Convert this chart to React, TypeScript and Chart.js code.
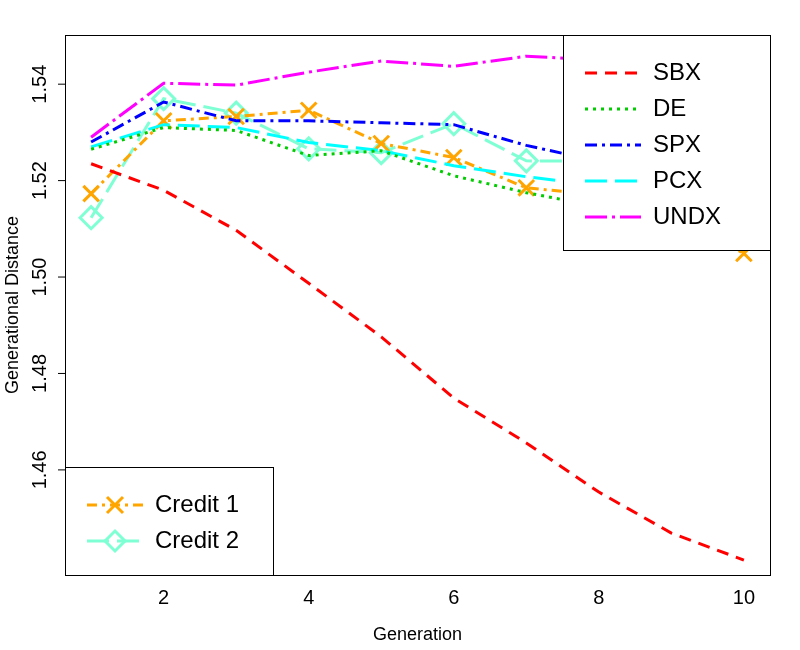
import { useEffect, useRef } from 'react'
import { Chart, registerables, type ChartConfiguration, type Plugin } from 'chart.js'

Chart.register(...registerables)

const generations = [1, 2, 3, 4, 5, 6, 7, 8, 9, 10]
const sbx = [1.5235, 1.518, 1.5097, 1.4987, 1.4876, 1.4749, 1.4656, 1.4554, 1.4469, 1.4413]
const de = [1.5265, 1.531, 1.5304, 1.5252, 1.5262, 1.521, 1.5175, 1.5146, 1.513, 1.512]
const spx = [1.528, 1.5363, 1.5324, 1.5324, 1.532, 1.5316, 1.5273, 1.524, 1.523, 1.522]
const pcx = [1.527, 1.5316, 1.531, 1.5279, 1.5262, 1.5231, 1.5208, 1.519, 1.518, 1.517]
const undx = [1.529, 1.5402, 1.5398, 1.5425, 1.5448, 1.5437, 1.5458, 1.545, 1.545, 1.546]
const credit1 = [1.5173, 1.5324, 1.5333, 1.5346, 1.5277, 1.5248, 1.5185, 1.517, 1.513, 1.5049]
const credit2 = [1.5123, 1.537, 1.534, 1.5266, 1.5258, 1.5318, 1.5241, 1.524, 1.52, 1.515]
const yTicks = [1.46, 1.48, 1.5, 1.52, 1.54]
const xTicks = [2, 4, 6, 8, 10]

const FONT = '"Liberation Sans", Arial, sans-serif'

type Item = { label: string; color: string; dash: number[]; marker?: 'cross' | 'diamond' }
const topItems: Item[] = [
  { label: 'SBX', color: '#ff0000', dash: [12, 8] },
  { label: 'DE', color: '#00cd00', dash: [3, 5] },
  { label: 'SPX', color: '#0000ff', dash: [12, 5, 3, 5] },
  { label: 'PCX', color: '#00ffff', dash: [22, 8] },
  { label: 'UNDX', color: '#ff00ff', dash: [22, 5, 3, 5] },
]
const bottomItems: Item[] = [
  { label: 'Credit 1', color: '#ffa500', dash: [10, 5, 3, 5], marker: 'cross' },
  { label: 'Credit 2', color: '#7fffd4', dash: [22, 8], marker: 'diamond' },
]

function drawBox(ctx: CanvasRenderingContext2D, x: number, y: number, w: number, h: number, items: Item[], rowH: number, y0: number) {
  ctx.save()
  ctx.fillStyle = '#fff'
  ctx.fillRect(x, y, w, h)
  ctx.strokeStyle = '#000'
  ctx.lineWidth = 1
  ctx.setLineDash([])
  ctx.strokeRect(x + 0.5, y + 0.5, w, h)
  ctx.font = `24px ${FONT}`
  ctx.textBaseline = 'middle'
  items.forEach((it, i) => {
    const cy = y + y0 + i * rowH
    ctx.strokeStyle = it.color
    ctx.lineWidth = 3
    ctx.setLineDash(it.dash)
    ctx.beginPath()
    ctx.moveTo(x + 22, cy)
    ctx.lineTo(x + 78, cy)
    ctx.stroke()
    ctx.setLineDash([])
    const mx = x + 50
    if (it.marker === 'cross') {
      ctx.beginPath()
      ctx.moveTo(mx - 8, cy - 8); ctx.lineTo(mx + 8, cy + 8)
      ctx.moveTo(mx + 8, cy - 8); ctx.lineTo(mx - 8, cy + 8)
      ctx.stroke()
    } else if (it.marker === 'diamond') {
      ctx.beginPath()
      ctx.moveTo(mx, cy - 10); ctx.lineTo(mx + 10, cy); ctx.lineTo(mx, cy + 10); ctx.lineTo(mx - 10, cy); ctx.closePath()
      ctx.stroke()
    }
    ctx.fillStyle = '#000'
    ctx.fillText(it.label, x + 90, cy)
  })
  ctx.restore()
}

const legendPlugin: Plugin<'line'> = {
  id: 'rLegend',
  afterDatasetsDraw(chart) {
    const { ctx, chartArea: a } = chart
    drawBox(ctx, a.right - 207, a.top, 207, 215, topItems, 36, 38)
    drawBox(ctx, a.left, a.bottom - 108, 208, 108, bottomItems, 36, 38)
    ctx.save()
    ctx.strokeStyle = '#000'
    ctx.lineWidth = 1
    ctx.strokeRect(a.left + 0.5, a.top + 0.5, a.right - a.left, a.bottom - a.top)
    // rotated y tick labels, centred on their ticks (R style)
    const y = chart.scales.y
    ctx.font = `20px ${FONT}`
    ctx.fillStyle = '#000'
    ctx.textAlign = 'center'
    ctx.textBaseline = 'middle'
    yTicks.forEach((v) => {
      const py = y.getPixelForValue(v)
      ctx.save()
      ctx.translate(40, py)
      ctx.rotate(-Math.PI / 2)
      ctx.fillText(v.toFixed(2), 0, 0)
      ctx.restore()
      ctx.beginPath()
      ctx.moveTo(a.left - 7, py)
      ctx.lineTo(a.left, py)
      ctx.stroke()
    })
    ctx.restore()
  },
}

export default function App() {
  const chartRef = useRef<HTMLCanvasElement>(null)
  const chartInstance = useRef<Chart | null>(null)

  useEffect(() => {
    document.body.style.margin = '0'
    if (!chartRef.current) return
    chartInstance.current?.destroy()
    const ctx = chartRef.current.getContext('2d')
    if (!ctx) return

    const series = [
      { item: topItems[0], data: sbx },
      { item: topItems[1], data: de },
      { item: topItems[2], data: spx },
      { item: topItems[3], data: pcx },
      { item: topItems[4], data: undx },
      { item: bottomItems[0], data: credit1 },
      { item: bottomItems[1], data: credit2 },
    ]

    const config: ChartConfiguration<'line'> = {
      type: 'line',
      data: {
        datasets: series.map(({ item, data }) => ({
          label: item.label,
          data: data.map((v, i) => ({ x: generations[i], y: v })),
          borderColor: item.color,
          borderDash: item.dash,
          borderWidth: 3,
          tension: 0,
          pointStyle: item.marker === 'cross' ? 'crossRot' : item.marker === 'diamond' ? 'rectRot' : false,
          pointRadius: item.marker ? 11 : 0,
          pointBorderWidth: 3,
          pointBackgroundColor: 'rgba(0,0,0,0)',
          pointBorderColor: item.color,
          fill: false,
        })),
      },
      options: {
        responsive: false,
        animation: false,
        layout: { padding: { top: 35, right: 30, left: 0, bottom: 0 } },
        plugins: { legend: { display: false }, tooltip: { enabled: false } },
        scales: {
          x: {
            type: 'linear',
            min: 0.64,
            max: 10.36,
            afterBuildTicks: (s) => { s.ticks = xTicks.map((v) => ({ value: v })) },
            afterFit: (s) => { s.height = 75 },
            grid: { display: false, drawTicks: true, tickLength: 8 },
            border: { display: true, color: '#000' },
            ticks: { color: '#000', font: { family: FONT, size: 20 }, maxRotation: 0 },
            title: { display: true, text: 'Generation', color: '#000', font: { family: FONT, size: 18 }, padding: { top: -6 } },
          },
          y: {
            type: 'linear',
            min: 1.4382,
            max: 1.5502,
            afterBuildTicks: (s) => { s.ticks = yTicks.map((v) => ({ value: v })) },
            afterFit: (s) => { s.width = 65 },
            grid: { display: false },
            border: { display: true, color: '#000' },
            ticks: { display: false },
            title: { display: true, text: 'Generational Distance', color: '#000', font: { family: FONT, size: 18 }, padding: { top: 2, bottom: 0 } },
          },
        },
      },
      plugins: [legendPlugin],
    }

    chartInstance.current = new Chart(ctx, config)
    return () => {
      chartInstance.current?.destroy()
    }
  }, [])

  return <canvas ref={chartRef} width={800} height={650} />
}
